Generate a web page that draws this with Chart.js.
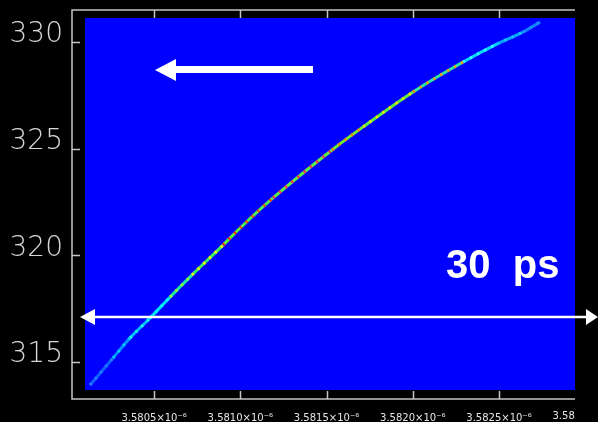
<!DOCTYPE html>
<html>
<head>
<meta charset="utf-8">
<script src="https://cdn.jsdelivr.net/npm/chart.js@4"></script>
<style>
  html, body { margin: 0; padding: 0; background: #000; }
  canvas { display: block; }
</style>
</head>
<body>
<canvas id="chart" width="598" height="422"></canvas>
<script>
// time axis in units of 1e-6, energy axis as printed
const timeValues   = [3.580129, 3.580262, 3.580361, 3.580477, 3.580593, 3.580720, 3.580900, 3.580999,
                      3.581190, 3.581532, 3.581712, 3.582002, 3.582292, 3.582490, 3.582640, 3.582739];
const energyValues = [313.92, 315.19, 316.13, 317.06, 318.05, 319.08, 320.48, 321.28,
                      322.69, 324.94, 326.02, 327.66, 329.06, 329.91, 330.47, 330.94];
// colour of each piece of the trace (between two points)
const traceColors  = ['#1060ff', '#0090ff', '#00c0ff', '#00e0f0', '#20f0a0', '#40f060', '#60f040', '#50f050',
                      '#60f040', '#70f030', '#60f040', '#30e8a0', '#00d8ff', '#00a8ff', '#1080ff'];
const speckColors  = ['#2080ff', '#00d0ff', '#20ffd0', '#00ffff', '#a0ff20', '#ffff00', '#ff2020', '#ff4000',
                      '#ff2060', '#ff8000', '#ffe000', '#ff9000', '#40ffff', '#20c0ff', '#2090ff'];

const timeTicks   = [3.5805, 3.5810, 3.5815, 3.5820, 3.5825, 3.5830];
const energyTicks = [315, 320, 325, 330];
const timeRange   = [3.580024, 3.582941];
const energyRange = [313.265, 331.5];

const points = timeValues.map((t, i) => ({ x: t, y: energyValues[i] }));
const fmtTime = v => v.toFixed(4) + '\u00d710\u207b\u2076';

const framePlugin = {
  id: 'frame',
  beforeDatasetsDraw(chart) {
    const { ctx, chartArea: a } = chart;
    const xs = chart.scales.x, ys = chart.scales.y;
    ctx.save();
    ctx.fillStyle = '#0000ff';
    ctx.fillRect(a.left + 13, a.top + 8, a.right - a.left - 13, a.bottom - a.top - 17);

    ctx.strokeStyle = '#c4c4c4';
    ctx.lineWidth = 1.5;
    ctx.beginPath();
    ctx.moveTo(a.right, a.top);
    ctx.lineTo(a.left, a.top);
    ctx.lineTo(a.left, a.bottom);
    ctx.lineTo(a.right, a.bottom);
    timeTicks.filter(v => v <= timeRange[1]).forEach(v => {
      const px = Math.round(xs.getPixelForValue(v)) + 0.5;
      ctx.moveTo(px, a.top); ctx.lineTo(px, a.top + 8);
      ctx.moveTo(px, a.bottom); ctx.lineTo(px, a.bottom - 8);
    });
    energyTicks.forEach(v => {
      const py = Math.round(ys.getPixelForValue(v)) + 0.5;
      ctx.moveTo(a.left, py); ctx.lineTo(a.left + 8, py);
    });
    ctx.stroke();
    ctx.restore();
  },
  afterDatasetsDraw(chart) {
    const { ctx } = chart;
    ctx.save();
    ctx.fillStyle = '#fff';
    ctx.strokeStyle = '#fff';

    // big left arrow near the top
    ctx.fillRect(175, 66, 138, 7);
    ctx.beginPath();
    ctx.moveTo(155, 70); ctx.lineTo(176, 59); ctx.lineTo(176, 81);
    ctx.closePath();
    ctx.fill();

    // 30 ps span arrow
    ctx.lineWidth = 2.5;
    ctx.beginPath();
    ctx.moveTo(94, 317); ctx.lineTo(587, 317);
    ctx.stroke();
    ctx.beginPath();
    ctx.moveTo(80, 317); ctx.lineTo(95, 309); ctx.lineTo(95, 325);
    ctx.closePath();
    ctx.fill();
    ctx.beginPath();
    ctx.moveTo(598, 317); ctx.lineTo(586, 309); ctx.lineTo(586, 325);
    ctx.closePath();
    ctx.fill();

    ctx.font = 'bold 40px "Liberation Sans", Arial, sans-serif';
    ctx.textBaseline = 'alphabetic';
    ctx.fillText('30  ps', 446, 278);
    ctx.restore();
  },
  afterDraw(chart) {
    // tick label past the right edge, cut where the plot ends
    const { ctx, chartArea: a } = chart;
    const xs = chart.scales.x;
    ctx.save();
    ctx.beginPath();
    ctx.rect(0, 0, a.right, chart.height);
    ctx.clip();
    ctx.fillStyle = '#e6e6e6';
    ctx.font = '10px "DejaVu Sans", sans-serif';
    ctx.textAlign = 'center';
    ctx.textBaseline = 'middle';
    timeTicks.filter(v => v > timeRange[1]).forEach(v => {
      ctx.fillText(fmtTime(v), xs.getPixelForValue(v), 416);
    });
    ctx.restore();
  }
};

new Chart(document.getElementById('chart'), {
  type: 'scatter',
  data: {
    datasets: [{
      data: points,
      order: 2,
      showLine: true,
      borderWidth: 3,
      pointRadius: 0,
      cubicInterpolationMode: 'monotone',
      segment: { borderColor: c => traceColors[c.p0DataIndex] }
    }, {
      data: points,
      order: 1,
      showLine: true,
      borderWidth: 3,
      borderDash: [2, 6],
      pointRadius: 0,
      cubicInterpolationMode: 'monotone',
      segment: { borderColor: c => speckColors[c.p0DataIndex] }
    }]
  },
  options: {
    responsive: false,
    animation: false,
    layout: { padding: { top: 10, right: 23, left: 0, bottom: 0 } },
    plugins: { legend: { display: false }, tooltip: { enabled: false } },
    scales: {
      x: {
        type: 'linear',
        min: timeRange[0],
        max: timeRange[1],
        afterFit: s => { s.height = 23; s.paddingLeft = 0; s.paddingRight = 0; },
        afterBuildTicks: s => { s.ticks = timeTicks.filter(v => v <= timeRange[1]).map(v => ({ value: v })); },
        grid: { display: false },
        border: { display: false },
        ticks: {
          autoSkip: false,
          maxRotation: 0,
          padding: 5,
          color: '#e6e6e6',
          font: { family: '"DejaVu Sans", sans-serif', size: 10 },
          callback: v => fmtTime(v)
        }
      },
      y: {
        min: energyRange[0],
        max: energyRange[1],
        afterFit: s => { s.width = 72; s.paddingTop = 0; s.paddingBottom = 0; },
        afterBuildTicks: s => { s.ticks = energyTicks.map(v => ({ value: v })); },
        grid: { display: false },
        border: { display: false },
        ticks: {
          padding: 1,
          labelOffset: -7,
          color: '#d6d6d6',
          font: { family: '"DejaVu Sans", sans-serif', size: 28, weight: '200' },
          callback: v => String(v)
        }
      }
    }
  },
  plugins: [framePlugin]
});
</script>
</body>
</html>
